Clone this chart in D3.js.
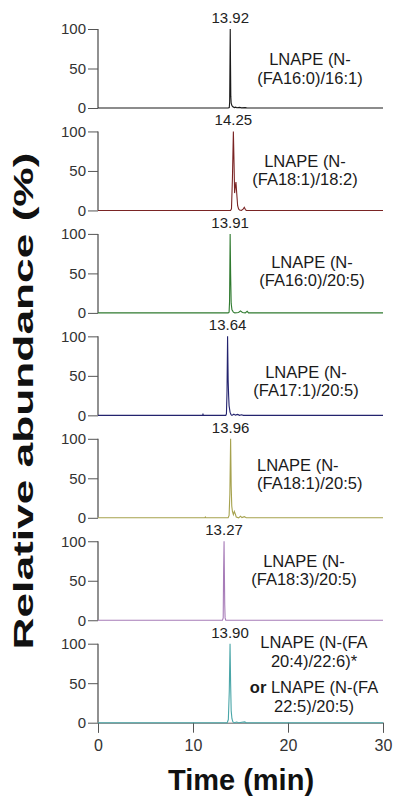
<!DOCTYPE html>
<html>
<head>
    <meta charset="utf-8">
    <title>LNAPE chromatograms</title>
    <script src="https://d3js.org/d3.v7.min.js"></script>
    <style>
        body { margin: 0; background: #fff; }
        svg { display: block; font-family: 'Liberation Sans', Arial, sans-serif; }
        .tick-label { fill: #333; }
    </style>
</head>
<body>
    <svg width="394" height="802"></svg>
    <script>
        // retention time of the main peak in each trace
        var peakTimes = [13.92, 14.25, 13.91, 13.64, 13.96, 13.27, 13.90];

        // compound label lines, one list per panel
        var labels = [
            ["LNAPE (N-", "(FA16:0)/16:1)"],
            ["LNAPE (N-", "(FA18:1)/18:2)"],
            ["LNAPE (N-", "(FA16:0)/20:5)"],
            ["LNAPE (N-", "(FA17:1)/20:5)"],
            ["LNAPE (N-", "(FA18:1)/20:5)"],
            ["LNAPE (N-", "(FA18:3)/20:5)"],
            ["LNAPE (N-(FA", "20:4)/22:6)*", "or|LNAPE (N-(FA", "22:5)/20:5)"]
        ];

        // trace points [time (min), relative abundance (%)]
        var trace1 = [[0,0],[13.7,0],[13.82,0.5],[13.86,8],[13.9,70],[13.92,100],[13.95,55],[13.98,15],[14.02,6],[14.1,3],[14.2,1.5],[14.35,0.5],[14.5,1],[14.6,0.3],[14.9,0.8],[15.1,0.2],[15.5,0.5],[15.7,0],[30,0]];
        var trace2 = [[0,0],[13.95,0],[14.05,2],[14.15,40],[14.25,100],[14.32,60],[14.38,22],[14.45,30],[14.52,36],[14.6,22],[14.7,6],[14.8,2],[14.9,0.5],[15.1,0],[15.3,2],[15.4,4],[15.5,1.5],[15.6,0],[30,0]];
        var trace3 = [[0,0],[13.7,0],[13.8,1],[13.85,15],[13.91,100],[13.96,50],[14.02,12],[14.1,4],[14.25,1],[14.4,0],[14.8,0.5],[15.0,2.5],[15.2,0.5],[15.5,0],[15.7,2],[15.85,0],[30,0]];
        var trace4 = [[0,0],[11.0,0],[11.05,1.5],[11.1,0],[13.45,0],[13.52,2],[13.58,30],[13.64,100],[13.7,45],[13.75,25],[13.8,12],[13.9,4],[14.0,1],[14.1,0],[14.3,1.5],[14.45,0.3],[14.7,1.2],[14.9,0],[15.1,0.8],[15.3,0],[30,0]];
        var trace5 = [[0,0],[11.25,0],[11.3,1],[11.35,0],[13.7,0],[13.8,3],[13.88,30],[13.96,100],[14.02,40],[14.08,15],[14.15,8],[14.25,4],[14.35,8],[14.45,5],[14.55,1],[14.8,0],[15.0,2],[15.15,0.3],[15.4,1.5],[15.6,0],[30,0]];
        var trace6 = [[0,0],[13.1,0],[13.18,3],[13.22,60],[13.27,100],[13.3,65],[13.34,20],[13.38,3],[13.45,0],[30,0]];
        var trace7 = [[0,0],[13.6,0],[13.72,4],[13.82,40],[13.9,100],[13.96,50],[14.02,15],[14.1,5],[14.2,1],[14.35,0],[14.6,0.8],[14.8,0],[15.45,1],[15.6,0],[30,0]];
        var traces = [trace1, trace2, trace3, trace4, trace5, trace6, trace7];

        var yTicks = [0, 50, 100];
        var xTicks = [0, 10, 20, 30];

        var colors = ["#1a1a1a", "#7a2424", "#2f7a2f", "#23236e", "#a6a24e", "#a77cb8", "#4aa6a8"];

        // label placement: x, anchor, baselines relative to the panel zero line
        var labelPos = [
            { x: 310, anchor: "middle", dy: [-43, -24.5] },
            { x: 305, anchor: "middle", dy: [-43.5, -25] },
            { x: 312, anchor: "middle", dy: [-45, -26.5] },
            { x: 306, anchor: "middle", dy: [-37.5, -19] },
            { x: 257, anchor: "start", dy: [-47, -28.5] },
            { x: 304, anchor: "middle", dy: [-53.5, -35] },
            { x: 314, anchor: "middle", dy: [-75, -55.5, -30, -11] }
        ];

        var svg = d3.select("svg");

        var x = d3.scaleLinear().domain([0, 30]).range([98, 383]);
        var firstBase = 108, step = 102.45, panelH = 79;

        var line = d3.line();

        traces.forEach(function (data, i) {
            var base = firstBase + i * step;
            var y = d3.scaleLinear().domain([0, 100]).range([base, base - panelH]);
            var g = svg.append("g");

            // y axis with minor ticks every 10
            var yAxis = g.append("g").attr("transform", "translate(98,0)");
            yAxis.call(d3.axisLeft(y).tickValues(d3.range(0, 101, 10)).tickSize(6).tickFormat(""));
            yAxis.call(d3.axisLeft(y).tickValues(yTicks).tickSize(10).tickPadding(2));
            yAxis.selectAll("path.domain").remove();
            yAxis.selectAll("line").attr("stroke", "#555");
            yAxis.append("line").attr("x1", 0).attr("x2", 0)
                .attr("y1", y(100)).attr("y2", y(0)).attr("stroke", "#555").attr("stroke-width", 1.3);
            yAxis.selectAll("text").attr("class", "tick-label")
                .style("font-family", "'Liberation Sans', Arial, sans-serif")
                .style("font-size", "15px");

            // bottom panel gets the time axis
            if (i === traces.length - 1) {
                var xAxis = g.append("g").attr("transform", "translate(0," + base + ")");
                xAxis.call(d3.axisBottom(x).tickValues(d3.range(0, 31, 2)).tickSize(6).tickFormat(""));
                xAxis.call(d3.axisBottom(x).tickValues(xTicks).tickSize(10).tickPadding(7));
                xAxis.selectAll("path.domain").attr("stroke", "#666");
                xAxis.selectAll("line").attr("stroke", "#555");
                xAxis.selectAll("text").attr("class", "tick-label")
                    .style("font-family", "'Liberation Sans', Arial, sans-serif")
                    .style("font-size", "16px");
            }

            // chromatogram trace
            g.append("path")
                .datum(data)
                .attr("d", line.x(function (d) { return x(d[0]); }).y(function (d) { return y(d[1]); }))
                .attr("fill", "none")
                .attr("stroke", colors[i])
                .attr("stroke-width", 1.1);

            // retention time label above the apex
            g.append("text")
                .attr("x", x(peakTimes[i]))
                .attr("y", base - 85)
                .attr("text-anchor", "middle")
                .attr("fill", "#222")
                .style("font-size", "15px")
                .text(peakTimes[i].toFixed(2));

            // compound name
            var lp = labelPos[i];
            labels[i].forEach(function (txt, k) {
                var t = g.append("text")
                    .attr("x", lp.x)
                    .attr("y", base + lp.dy[k])
                    .attr("text-anchor", lp.anchor)
                    .attr("fill", "#1a1a1a")
                    .style("font-size", "16.5px");
                var parts = txt.split("|");
                if (parts.length > 1) {
                    t.append("tspan").attr("font-weight", "bold").text(parts[0] + " ");
                    t.append("tspan").text(parts[1]);
                } else {
                    t.text(txt);
                }
            });
        });

        // axis titles
        svg.append("text")
            .attr("transform", "translate(33,401) rotate(-90)")
            .attr("text-anchor", "middle")
            .attr("textLength", 497)
            .attr("lengthAdjust", "spacingAndGlyphs")
            .attr("font-weight", "bold")
            .style("font-size", "28px")
            .attr("fill", "#111")
            .text("Relative abundance (%)");

        svg.append("text")
            .attr("x", 241)
            .attr("y", 790)
            .attr("text-anchor", "middle")
            .attr("font-weight", "bold")
            .style("font-size", "29px")
            .attr("fill", "#111")
            .text("Time (min)");
    </script>
</body>
</html>
